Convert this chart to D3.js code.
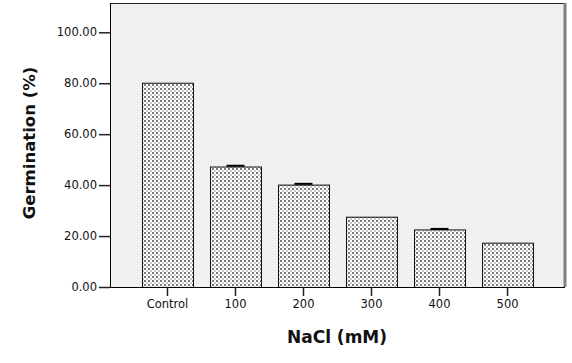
<!DOCTYPE html>
<html>
<head>
<meta charset="utf-8">
<script src="https://cdn.jsdelivr.net/npm/d3@7"></script>
<style>
  body { margin: 0; background: #fff; }
  text { font-family: "DejaVu Sans", Verdana, sans-serif; }
</style>
</head>
<body>
<div id="chart"></div>
<script>
const categories = ["Control", "100", "200", "300", "400", "500"];
const germination = [80.2, 47.3, 40.2, 27.6, 22.6, 17.4];
const errors = [0, 0.3, 0.3, 0, 0.2, 0];
const yTicks = [0, 20, 40, 60, 80, 100];

const width = 572, height = 363;
const plot = { left: 110, right: 565, top: 3, bottom: 287 };

const svg = d3.select("#chart").append("svg")
    .attr("width", width)
    .attr("height", height);

// dotted fill like the SPSS bar pattern
const pat = svg.append("defs").append("pattern")
    .attr("id", "dots")
    .attr("patternUnits", "userSpaceOnUse")
    .attr("width", 4).attr("height", 4);
pat.append("rect").attr("width", 4).attr("height", 4).attr("fill", "#fff");
pat.append("rect").attr("x", 0).attr("y", 0).attr("width", 2).attr("height", 2).attr("fill", "#7a7a7a");
pat.append("rect").attr("x", 2).attr("y", 2).attr("width", 2).attr("height", 2).attr("fill", "#c8c8c8");

const x = d3.scaleBand()
    .domain(categories)
    .range([plot.left, plot.right])
    .paddingInner(0.25)
    .paddingOuter(0.47);

const y = d3.scaleLinear()
    .domain([0, 111.5])
    .range([plot.bottom, plot.top]);

// plot background
svg.append("rect")
    .attr("x", plot.left).attr("y", plot.top)
    .attr("width", plot.right - plot.left)
    .attr("height", plot.bottom - plot.top)
    .attr("fill", "#f0f0f0");

// top border + right shadow border
svg.append("line")
    .attr("x1", plot.left).attr("x2", plot.right)
    .attr("y1", plot.top + 0.5).attr("y2", plot.top + 0.5)
    .attr("stroke", "#222").attr("stroke-width", 1);
svg.append("line")
    .attr("x1", plot.right).attr("x2", plot.right)
    .attr("y1", plot.top).attr("y2", plot.bottom)
    .attr("stroke", "#808080").attr("stroke-width", 3);

// bars
svg.append("g")
    .selectAll("rect")
    .data(categories)
    .join("rect")
    .attr("x", d => x(d) + 0.5)
    .attr("y", (d, i) => y(germination[i]) + 0.5)
    .attr("width", x.bandwidth())
    .attr("height", (d, i) => y(0) - y(germination[i]))
    .attr("fill", "url(#dots)")
    .attr("stroke", "#111")
    .attr("stroke-width", 1);

// error bars (tiny, only the caps show)
const eb = svg.append("g").attr("stroke", "#000").attr("stroke-width", 2);
categories.forEach((c, i) => {
    if (!errors[i]) return;
    const cx = x(c) + x.bandwidth() / 2;
    eb.append("line")
        .attr("x1", cx - 9).attr("x2", cx + 9)
        .attr("y1", y(germination[i] + errors[i])).attr("y2", y(germination[i] + errors[i]));
});

// y axis
const yAxis = svg.append("g")
    .attr("transform", `translate(${plot.left},0)`)
    .call(d3.axisLeft(y).tickValues(yTicks).tickFormat(d3.format(".2f")).tickSize(11).tickPadding(2));
yAxis.select(".domain").attr("stroke", "#000").attr("d", `M0.5,${plot.top}V${plot.bottom}`);
yAxis.selectAll(".tick line").attr("stroke", "#222").attr("stroke-width", 1.5);
yAxis.selectAll("text").attr("font-size", 11.5).attr("fill", "#111");

// x axis
const xAxis = svg.append("g")
    .attr("transform", `translate(0,${plot.bottom})`)
    .call(d3.axisBottom(x).tickSize(9).tickPadding(4));
xAxis.select(".domain").attr("stroke", "#000").attr("d", `M${plot.left},0.5H${plot.right}`);
xAxis.selectAll(".tick line").attr("stroke", "#222").attr("stroke-width", 1.5);
xAxis.selectAll("text").attr("font-size", 11.5).attr("fill", "#111");

// titles
svg.append("text")
    .attr("x", 337).attr("y", 343)
    .attr("text-anchor", "middle")
    .attr("font-size", 17).attr("font-weight", "bold")
    .attr("fill", "#111")
    .text("NaCl (mM)");

svg.append("text")
    .attr("transform", "translate(35,143) rotate(-90)")
    .attr("text-anchor", "middle")
    .attr("font-size", 16.5).attr("font-weight", "bold")
    .attr("fill", "#111")
    .text("Germination (%)");
</script>
</body>
</html>
